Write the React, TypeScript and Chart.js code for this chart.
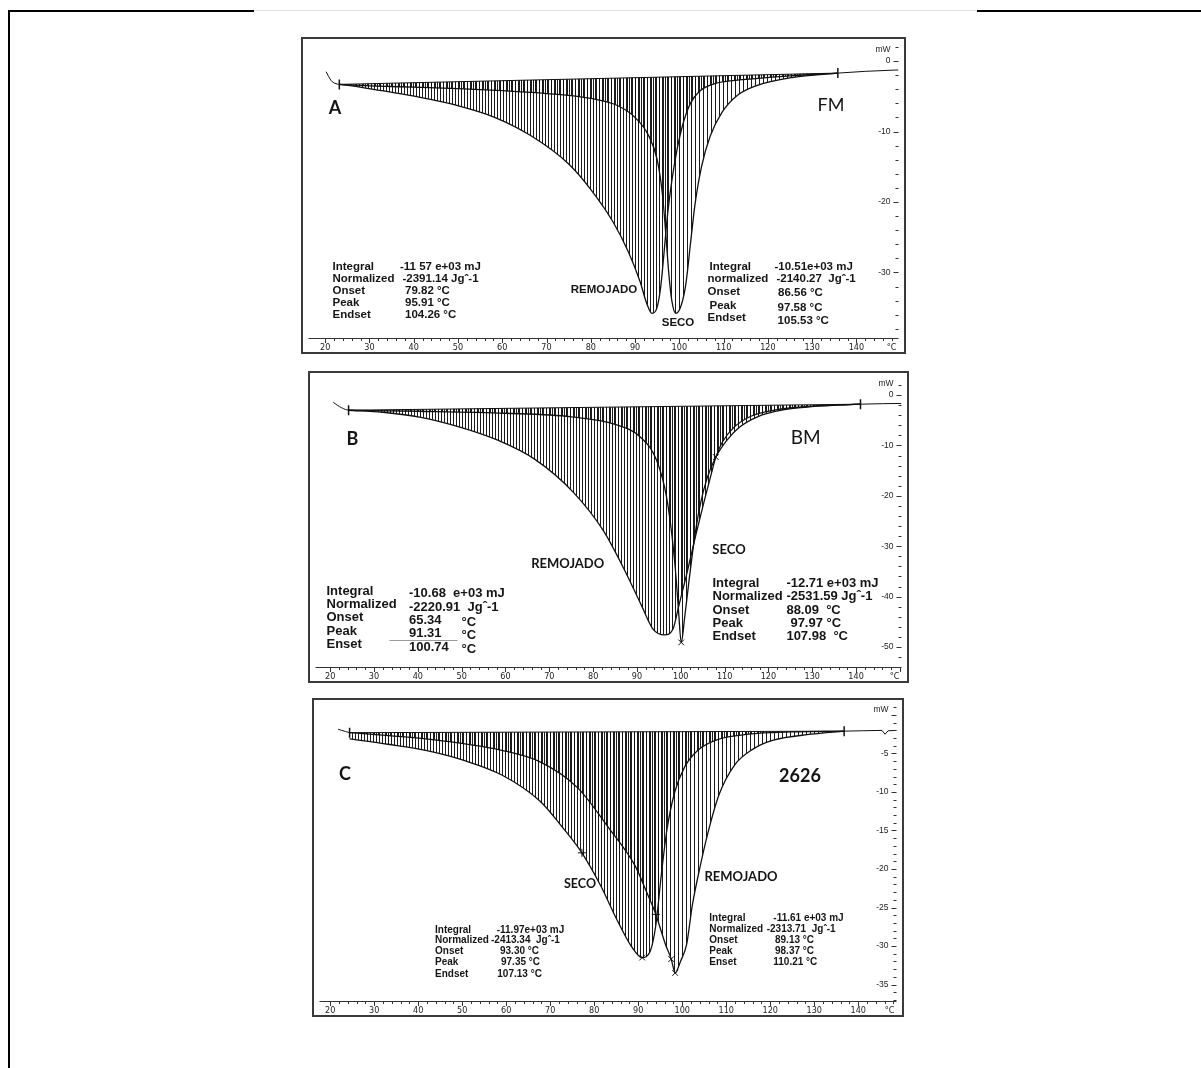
import React, { useEffect, useRef } from "react";
import { Chart, registerables } from "chart.js";
Chart.register(...registerables);

// ================= DATA (temperature °C, heat flow mW) =================
// ---- Panel A : FM ----
const aBaseT = [23.2, 135.8];
const aBaseMW = [-3.3, -1.7];
const aLeadT = [20.2, 20.8, 21.4, 22.2, 23.2];
const aLeadMW = [-1.5, -2.2, -2.8, -3.15, -3.3];
const aTailT = [135.8, 142, 149.5];
const aTailMW = [-1.7, -1.45, -1.25];
const aRemojadoT = [23.2, 26, 32.7, 41.2, 49.6, 58, 66.5, 75, 80.1, 85.1, 88.5, 91.1, 92.7, 93.8, 94.9, 95.8, 96.5, 97.3, 98.3, 99.5, 101, 102.5, 104.5, 108, 115, 125, 135.8];
const aRemojadoMW = [-3.3, -3.5, -4.2, -5.1, -6.25, -7.9, -10.6, -14.6, -18.3, -22.9, -27.1, -31.25, -34.5, -35.8, -35.1, -32, -27.5, -22, -17, -12.5, -8.5, -6, -4.3, -3.2, -2.6, -2.1, -1.7];
const aSecoT = [23.2, 30, 40, 50, 60, 70, 80, 86, 90, 93, 95, 96.2, 97, 97.6, 98.3, 99.2, 100.5, 101.5, 102.5, 103.5, 105, 107, 109.7, 113, 117.3, 125.7, 135.8];
const aSecoMW = [-3.3, -3.5, -3.7, -3.9, -4.2, -4.6, -5.3, -6.3, -8, -10.5, -14, -19, -25, -30, -34, -35.8, -34.5, -31.5, -26, -20.5, -15, -10.6, -7.2, -4.9, -3.5, -2.3, -1.7];
const aMarkT: number[] = [];
const aMarkMW: number[] = [];
const aMarkStyle: string[] = [];

// ---- Panel B : BM ----
const bBaseT = [24.2, 141];
const bBaseMW = [-3.0, -1.8];
const bLeadT = [20.7, 21.6, 22.6, 23.5, 24.2];
const bLeadMW = [-1.4, -2.0, -2.5, -2.85, -3.0];
const bTailT = [141, 146, 150.3];
const bTailMW = [-1.8, -1.7, -1.65];
const bRemojadoT = [24.2, 32, 40.7, 49.4, 58.1, 66.8, 75.5, 82.4, 87.6, 91.1, 93.7, 96.3, 98.2, 99.5, 101.5, 103.5, 105.5, 107, 108, 109.5, 112, 116, 122, 130, 141];
const bRemojadoMW = [-3.0, -3.4, -4.4, -6.3, -8.9, -12.8, -19.3, -27, -35.5, -41.9, -46.5, -47.6, -46.5, -42, -35, -27.5, -20.5, -15.5, -12.3, -9.3, -6.5, -4.2, -2.9, -2.2, -1.8];
const bSecoT = [24.2, 40, 60, 75, 85, 91, 94.5, 96.7, 98, 98.9, 99.5, 100.1, 100.9, 102, 103.2, 104.5, 106, 108, 110.5, 113.5, 117.5, 123, 131, 141];
const bSecoMW = [-3.0, -3.2, -3.6, -4.3, -5.8, -8.5, -13, -20, -28, -36, -43, -49.1, -44, -36, -28, -21.5, -16.5, -12.3, -9, -6.3, -4.3, -3, -2.2, -1.8];
const bMarkT = [100.1, 108];
const bMarkMW = [-49.1, -12.3];
const bMarkStyle = ["crossRot", "crossRot"];

// ---- Panel C : 2626 ----
const cBaseT = [24.4, 136.8];
const cBaseMW = [-2.3, -2.1];
const cLeadT = [21.8, 22.6, 23.5, 24.4];
const cLeadMW = [-1.85, -2.0, -2.15, -2.3];
const cTailT = [136.8, 141, 145.4, 146.1, 146.8, 148.7];
const cTailMW = [-2.1, -2.05, -2.0, -2.5, -2.05, -2.0];
const cSecoT = [24.4, 33.1, 41.7, 50.4, 59, 67.7, 72.8, 77.2, 81.5, 85, 88.4, 90.9, 92.7, 94, 95.2, 96.5, 98.3, 100.5, 103.5, 108, 115, 125, 136.8];
const cSecoMW = [-3.1, -3.8, -4.6, -5.9, -7.8, -11.2, -14.6, -17.9, -22.2, -26.4, -30, -31.5, -30.7, -27.3, -21, -15, -10, -6.8, -4.6, -3.2, -2.5, -2.2, -2.1];
const cRemojadoT = [24.4, 41.7, 59, 67.7, 76.3, 83.2, 89.3, 91.9, 94, 96.2, 97.5, 98.4, 99.6, 101, 102.3, 104.1, 105.8, 108.4, 111.9, 116.2, 120.5, 129.2, 136.8];
const cRemojadoMW = [-2.3, -3.1, -4.6, -6.1, -9.5, -14.6, -19.6, -23, -25.9, -29.8, -31.7, -33.5, -32, -29.8, -24.7, -19.6, -15.4, -10.3, -6.5, -4.4, -3.3, -2.5, -2.1];
const cMarkT = [77.2, 90.9, 94, 97.5, 98.4];
const cMarkMW = [-17.9, -31.5, -25.9, -31.7, -33.5];
const cMarkStyle = ["cross", "crossRot", "cross", "crossRot", "crossRot"];

// ---- axis tick labels ----
const xTickLabels = [20, 30, 40, 50, 60, 70, 80, 90, 100, 110, 120, 130, 140];
const aYTickLabels = [0, -10, -20, -30];
const bYTickLabels = [0, -10, -20, -30, -40, -50];
const cYTickLabels = [-5, -10, -15, -20, -25, -30, -35];

// ================= helpers =================
const zip = (t: number[], v: number[]) => t.map((x, i) => ({ x, y: v[i] }));
const ARIAL = '"Liberation Sans", Arial, sans-serif';
const LATO = 'Lato, "Open Sans", sans-serif';
const NARROW = '"Liberation Sans Narrow", "DejaVu Sans Condensed", "Liberation Sans", sans-serif';

type Txt = { x: number; y: number; text: string; font: string; align?: CanvasTextAlign };
type Seg = { x1: number; y1: number; x2: number; y2: number; color: string };

function column(x: number, ys: number[], texts: string[], font: string): Txt[] {
  return texts.map((text, i) => ({ x, y: ys[i], text, font }));
}

type PanelCfg = {
  id: string;
  frame: { left: number; top: number; width: number; height: number };
  xMin: number; xMax: number; yMin: number; yMax: number;
  yLabels: number[]; yMinorStep: number; yMajorStep: number; mwOffset: number;
  base: { x: number; y: number }[];
  lead: { x: number; y: number }[];
  tail: { x: number; y: number }[];
  c1: { x: number; y: number }[];
  c2: { x: number; y: number }[];
  marks: { x: number; y: number }[];
  markStyle: string[];
  texts: Txt[];
  segs: Seg[];
};

const fA = "bold 11.5px " + ARIAL;
const fB = "bold 13px " + ARIAL;
const fC = "bold 10px " + ARIAL;

const panels: PanelCfg[] = [
  {
    id: "A",
    frame: { left: 301, top: 37, width: 605, height: 317 },
    xMin: 16.24, xMax: 149.5, yMin: -39.3, yMax: 2.36,
    yLabels: aYTickLabels, yMinorStep: 2, yMajorStep: 10, mwOffset: -11,
    base: zip(aBaseT, aBaseMW), lead: zip(aLeadT, aLeadMW), tail: zip(aTailT, aTailMW),
    c1: zip(aRemojadoT, aRemojadoMW), c2: zip(aSecoT, aSecoMW),
    marks: zip(aMarkT, aMarkMW), markStyle: aMarkStyle,
    texts: [
      { x: 33, y: 70, text: "A", font: "bold 18px " + LATO, align: "center" },
      { x: 529, y: 67, text: "FM", font: "18px " + LATO, align: "center" },
      ...column(30.5, [229, 241, 253, 265, 277], ["Integral", "Normalized", "Onset", "Peak", "Endset"], fA),
      { x: 98, y: 229, text: "-11 57 e+03 mJ", font: fA },
      { x: 100.5, y: 241, text: "-2391.14 Jgˆ-1", font: fA },
      { x: 103, y: 253, text: "79.82 °C", font: fA },
      { x: 103, y: 265, text: "95.91 °C", font: fA },
      { x: 103, y: 277, text: "104.26 °C", font: fA },
      { x: 407.5, y: 228.7, text: "Integral", font: fA },
      { x: 405.6, y: 240.7, text: "normalized", font: fA },
      { x: 405.6, y: 254.3, text: "Onset", font: fA },
      { x: 407.5, y: 268, text: "Peak", font: fA },
      { x: 405.6, y: 280.3, text: "Endset", font: fA },
      { x: 472.5, y: 228.7, text: "-10.51e+03 mJ", font: fA },
      { x: 474.5, y: 240.7, text: "-2140.27  Jgˆ-1", font: fA },
      { x: 476, y: 255.3, text: "86.56 °C", font: fA },
      { x: 475.6, y: 269.7, text: "97.58 °C", font: fA },
      { x: 475.6, y: 282.7, text: "105.53 °C", font: fA },
      { x: 302, y: 252, text: "REMOJADO", font: "bold 11.5px " + ARIAL, align: "center" },
      { x: 376, y: 285, text: "SECO", font: "bold 11.5px " + ARIAL, align: "center" },
    ],
    segs: [],
  },
  {
    id: "B",
    frame: { left: 308, top: 371, width: 601, height: 312 },
    xMin: 16.65, xMax: 150.36, yMin: -53.98, yMax: 3.3,
    yLabels: bYTickLabels, yMinorStep: 2, yMajorStep: 10, mwOffset: -11,
    base: zip(bBaseT, bBaseMW), lead: zip(bLeadT, bLeadMW), tail: zip(bTailT, bTailMW),
    c1: zip(bRemojadoT, bRemojadoMW), c2: zip(bSecoT, bSecoMW),
    marks: zip(bMarkT, bMarkMW), markStyle: bMarkStyle,
    texts: [
      { x: 43.5, y: 67, text: "B", font: "bold 18px " + LATO, align: "center" },
      { x: 496.8, y: 66.3, text: "BM", font: "19px " + LATO, align: "center" },
      ...column(17.5, [219, 232.3, 245.7, 259, 272.3], ["Integral", "Normalized", "Onset", "Peak", "Enset"], fB),
      { x: 100, y: 221.7, text: "-10.68  e+03 mJ", font: fB },
      { x: 100, y: 235.7, text: "-2220.91  Jgˆ-1", font: fB },
      { x: 100, y: 248, text: "65.34", font: fB },
      { x: 100, y: 261.7, text: "91.31", font: fB },
      { x: 100, y: 275.7, text: "100.74", font: fB },
      { x: 152.5, y: 250.3, text: "°C", font: fB },
      { x: 152.5, y: 263.7, text: "°C", font: fB },
      { x: 152.5, y: 277, text: "°C", font: fB },
      ...column(403.5, [211.3, 224.7, 238, 251.3, 264.7], ["Integral", "Normalized", "Onset", "Peak", "Endset"], fB),
      { x: 477.4, y: 211.3, text: "-12.71 e+03 mJ", font: fB },
      { x: 477.4, y: 224.7, text: "-2531.59 Jgˆ-1", font: fB },
      { x: 477.4, y: 238, text: "88.09  °C", font: fB },
      { x: 481.4, y: 251.3, text: "97.97 °C", font: fB },
      { x: 477.4, y: 264.7, text: "107.98  °C", font: fB },
      { x: 258.7, y: 192, text: "REMOJADO", font: "bold 13px " + LATO, align: "center" },
      { x: 420, y: 178, text: "SECO", font: "bold 13px " + LATO, align: "center" },
    ],
    segs: [{ x1: 80.5, y1: 268, x2: 148.6, y2: 268, color: "#9a9a9a" }],
  },
  {
    id: "C",
    frame: { left: 312, top: 698, width: 592, height: 319 },
    xMin: 17.56, xMax: 148.7, yMin: -37.14, yMax: 1.23,
    yLabels: cYTickLabels, yMinorStep: 1, yMajorStep: 5, mwOffset: -5,
    base: zip(cBaseT, cBaseMW), lead: zip(cLeadT, cLeadMW), tail: zip(cTailT, cTailMW),
    c1: zip(cSecoT, cSecoMW), c2: zip(cRemojadoT, cRemojadoMW),
    marks: zip(cMarkT, cMarkMW), markStyle: cMarkStyle,
    texts: [
      { x: 32, y: 75, text: "C", font: "bold 18px " + LATO, align: "center" },
      { x: 487, y: 77, text: "2626", font: "bold 18px " + LATO, align: "center" },
      ...column(122, [231, 241.7, 252.7, 263.7, 275], ["Integral", "Normalized", "Onset", "Peak", "Endset"], fC),
      { x: 183.7, y: 231, text: "-11.97e+03 mJ", font: fC },
      { x: 178, y: 241.7, text: "-2413.34  Jgˆ-1", font: fC },
      { x: 187, y: 252.7, text: "93.30 °C", font: fC },
      { x: 188, y: 263.7, text: "97.35 °C", font: fC },
      { x: 184.3, y: 275, text: "107.13 °C", font: fC },
      ...column(396.3, [219.3, 230, 241, 252.7, 263.7], ["Integral", "Normalized", "Onset", "Peak", "Enset"], fC),
      { x: 460.3, y: 219.3, text: "-11.61 e+03 mJ", font: fC },
      { x: 453.7, y: 230, text: "-2313.71  Jgˆ-1", font: fC },
      { x: 462, y: 241, text: "89.13 °C", font: fC },
      { x: 462, y: 252.7, text: "98.37 °C", font: fC },
      { x: 460.3, y: 263.7, text: "110.21 °C", font: fC },
      { x: 267, y: 185, text: "SECO", font: "bold 12.5px " + LATO, align: "center" },
      { x: 428, y: 178, text: "REMOJADO", font: "bold 13px " + LATO, align: "center" },
    ],
    segs: [],
  },
];

function makeHatch(ctx: CanvasRenderingContext2D, w: number, offset: number, color: string) {
  const c = document.createElement("canvas");
  c.width = w;
  c.height = 8;
  const g = c.getContext("2d")!;
  g.fillStyle = color;
  g.fillRect(offset, 0, 1, 8);
  return ctx.createPattern(c, "repeat")!;
}

function Panel({ cfg }: { cfg: PanelCfg }) {
  const ref = useRef<HTMLCanvasElement>(null);
  useEffect(() => {
    const canvas = ref.current!;
    const ctx = canvas.getContext("2d")!;
    const p1 = makeHatch(ctx, 3, 0, "rgba(15,15,15,0.95)");
    const p2 = makeHatch(ctx, 4, 1, "rgba(15,15,15,0.95)");
    const line = "#111";

    const decor = {
      id: "decor" + cfg.id,
      afterDraw(chart: any) {
        const c: CanvasRenderingContext2D = chart.ctx;
        const { left, right, bottom } = chart.chartArea;
        const xs = chart.scales.x;
        const ys = chart.scales.y;
        c.save();
        c.strokeStyle = "#333";
        c.lineWidth = 1;
        c.beginPath();
        c.moveTo(left, bottom + 0.5);
        c.lineTo(right, bottom + 0.5);
        for (let t = 20; t <= cfg.xMax; t += 2) {
          const px = Math.round(xs.getPixelForValue(t)) + 0.5;
          const len = t % 10 === 0 ? 5 : 3;
          c.moveTo(px, bottom);
          c.lineTo(px, bottom + len);
        }
        const start = Math.floor(cfg.yMax / cfg.yMinorStep) * cfg.yMinorStep;
        for (let v = start; v >= cfg.yMin; v -= cfg.yMinorStep) {
          const py = Math.round(ys.getPixelForValue(v)) + 0.5;
          const len = Math.abs(v % cfg.yMajorStep) < 1e-6 ? 5 : 3;
          c.moveTo(right, py);
          c.lineTo(right - len, py);
        }
        c.stroke();
        c.fillStyle = "#222";
        c.font = "9px " + NARROW;
        c.textAlign = "center";
        c.textBaseline = "middle";
        for (const v of xTickLabels) {
          c.fillText(String(v), xs.getPixelForValue(v), bottom + 10);
        }
        c.textAlign = "right";
        c.fillText("°C", right - 2, bottom + 10);
        c.font = "8.5px " + ARIAL;
        for (const v of cfg.yLabels) {
          c.fillText(String(v), right - 8, ys.getPixelForValue(v));
        }
        c.fillText("mW", right - 8, ys.getPixelForValue(0) + cfg.mwOffset);
        c.restore();
      },
      afterDatasetsDraw(chart: any) {
        const c: CanvasRenderingContext2D = chart.ctx;
        c.save();
        c.fillStyle = "#151515";
        c.textBaseline = "middle";
        for (const t of cfg.texts) {
          c.font = t.font;
          c.textAlign = t.align || "left";
          c.fillText(t.text, t.x, t.y);
        }
        for (const s of cfg.segs) {
          c.strokeStyle = s.color;
          c.lineWidth = 1;
          c.beginPath();
          c.moveTo(s.x1, s.y1 + 0.5);
          c.lineTo(s.x2, s.y2 + 0.5);
          c.stroke();
        }
        c.restore();
      },
    };

    const chart = new Chart(canvas, {
      type: "line",
      data: {
        datasets: [
          {
            data: cfg.base, borderColor: line, borderWidth: 1, fill: false, tension: 0,
            pointStyle: "line", pointRotation: 90, pointRadius: 5, pointBorderWidth: 1.5,
            pointBorderColor: line, pointBackgroundColor: line,
          } as any,
          {
            data: cfg.c1, borderColor: line, borderWidth: 1.3, pointRadius: 0,
            fill: { target: 0 }, backgroundColor: p1, cubicInterpolationMode: "monotone",
          },
          {
            data: cfg.c2, borderColor: line, borderWidth: 1.3, pointRadius: 0,
            fill: { target: 0 }, backgroundColor: p2, cubicInterpolationMode: "monotone",
          },
          { data: cfg.lead, borderColor: line, borderWidth: 1, pointRadius: 0, fill: false, cubicInterpolationMode: "monotone" },
          { data: cfg.tail, borderColor: line, borderWidth: 1, pointRadius: 0, fill: false, tension: 0 },
          {
            data: cfg.marks, showLine: false, pointStyle: cfg.markStyle as any, pointRadius: 4,
            pointBorderColor: line, pointBorderWidth: 1, fill: false,
          } as any,
        ],
      },
      options: {
        responsive: false,
        animation: false,
        devicePixelRatio: 1,
        layout: { padding: { left: 0, right: 0, top: 0, bottom: 15 } },
        plugins: { legend: { display: false }, tooltip: { enabled: false } },
        scales: {
          x: { type: "linear", display: false, min: cfg.xMin, max: cfg.xMax },
          y: { type: "linear", display: false, min: cfg.yMin, max: cfg.yMax },
        },
      },
      plugins: [decor],
    });
    return () => chart.destroy();
  }, [cfg]);

  const f = cfg.frame;
  return (
    <>
      <div
        style={{
          position: "absolute", left: f.left, top: f.top, width: f.width, height: f.height,
          border: "2px solid #3a3a3a", boxSizing: "border-box", background: "#fff",
        }}
      />
      <canvas
        ref={ref}
        width={f.width - 2}
        height={f.height - 2}
        style={{ position: "absolute", left: f.left + 1, top: f.top + 1, display: "block" }}
      />
    </>
  );
}

export default function App() {
  return (
    <div style={{ position: "absolute", left: 0, top: 0, width: 1201, height: 1068, background: "#fff", overflow: "hidden" }}>
      <div style={{ position: "absolute", left: 8, top: 10, width: 246, height: 2, background: "#000" }} />
      <div style={{ position: "absolute", left: 977, top: 10, width: 224, height: 2, background: "#000" }} />
      <div style={{ position: "absolute", left: 254, top: 10, width: 723, height: 1, background: "#e2e2e2" }} />
      <div style={{ position: "absolute", left: 8, top: 10, width: 2, height: 1058, background: "#000" }} />
      {panels.map((p) => (
        <Panel key={p.id} cfg={p} />
      ))}
    </div>
  );
}
